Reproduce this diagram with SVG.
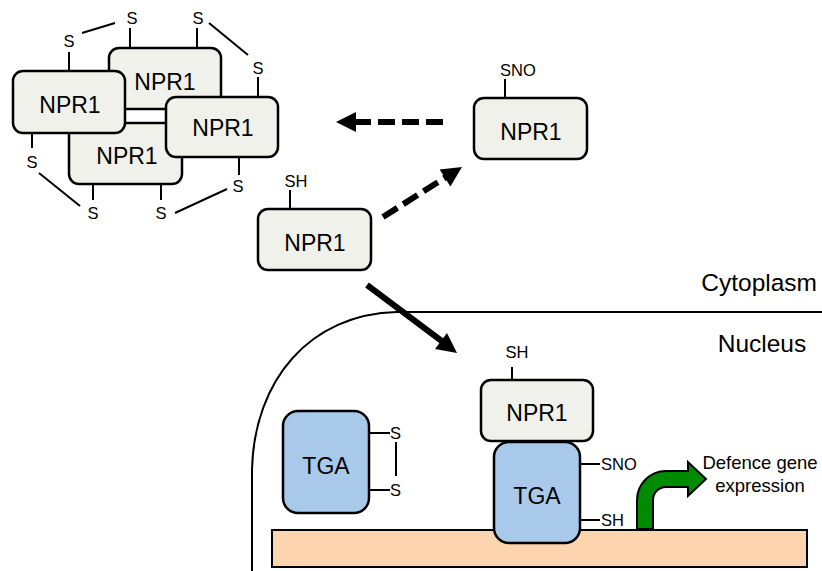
<svg xmlns="http://www.w3.org/2000/svg" width="822" height="571" viewBox="0 0 822 571">
<style>
text{font-family:"Liberation Sans",Arial,sans-serif;fill:#000}
.npr{fill:#F1F1EB;stroke:#000;stroke-width:2.5}
.tga{fill:#A9C9EB;stroke:#000;stroke-width:2.5}
.big{font-size:23px;text-anchor:middle}
.lab{font-size:16.5px}
.mid{text-anchor:middle}
.thin{stroke:#000;stroke-width:2;fill:none}
.arr{stroke:#000;stroke-width:6;fill:none}
.dash{stroke-dasharray:17 7}
.lbl{font-size:24.5px}
.txt{font-size:18.5px;text-anchor:middle}
</style>
<rect width="822" height="571" fill="#fff"/>
<g id="nucleus-envelope">
<path class="thin" d="M822,312 H397 C310,314 254,380 252,470 V571"/>
</g>
<g id="labels">
<text class="lbl" x="817" y="291" text-anchor="end">Cytoplasm</text>
<text class="lbl" x="762" y="352" text-anchor="middle">Nucleus</text>
</g>
<g id="dna">
<rect x="272" y="530" width="535" height="37" fill="#FCD5AE" stroke="#000" stroke-width="2"/>
</g>
<g id="npr1-oligomer">
<rect class="npr" x="109" y="48" width="112" height="61" rx="10"/>
<text class="big" x="165" y="90">NPR1</text>
<rect class="npr" x="69" y="123" width="113" height="61" rx="10"/>
<text class="big" x="127" y="164">NPR1</text>
<rect class="npr" x="13" y="71" width="112" height="62" rx="10"/>
<text class="big" x="70" y="113">NPR1</text>
<rect class="npr" x="166" y="97" width="112" height="60" rx="10"/>
<text class="big" x="223" y="136">NPR1</text>
<path class="thin" d="M69,71V52 M130,48V28 M197,48V28 M258,97V77 M32,133V148 M93,184V200 M161,184V200 M239,157V175 M82,33L115,23 M209,23L248,55 M39,173L80,206 M175,213L227,189"/>
<text class="lab mid" x="69" y="47">S</text>
<text class="lab mid" x="132" y="24">S</text>
<text class="lab mid" x="198" y="24">S</text>
<text class="lab mid" x="258" y="74">S</text>
<text class="lab mid" x="32" y="168">S</text>
<text class="lab mid" x="93" y="219">S</text>
<text class="lab mid" x="161" y="219">S</text>
<text class="lab mid" x="238" y="192">S</text>
</g>
<g id="npr1-sh">
<rect class="npr" x="258" y="209" width="113" height="61" rx="10"/>
<text class="big" x="315" y="251">NPR1</text>
<path class="thin" d="M290,209V190"/>
<text class="lab mid" x="296" y="187">SH</text>
</g>
<g id="npr1-sno">
<rect class="npr" x="474" y="98" width="113" height="61" rx="10"/>
<text class="big" x="531" y="140">NPR1</text>
<path class="thin" d="M505,98V79"/>
<text class="lab mid" x="518" y="76">SNO</text>
</g>
<g id="tga-oxidized">
<rect class="tga" x="283" y="411" width="86" height="102" rx="15"/>
<text class="big" x="326" y="474">TGA</text>
<path class="thin" d="M369,433H390 M369,490H390 M396,442V476"/>
<text class="lab" x="390" y="439">S</text>
<text class="lab" x="390" y="496">S</text>
</g>
<g id="npr1-tga-complex">
<rect class="npr" x="481" y="380" width="112" height="61" rx="10"/>
<text class="big" x="537" y="421">NPR1</text>
<path class="thin" d="M512,380V367"/>
<text class="lab mid" x="517" y="358">SH</text>
<rect class="tga" x="494" y="442" width="86" height="101" rx="15"/>
<text class="big" x="537" y="504">TGA</text>
<path class="thin" d="M580,464H600 M580,520H600"/>
<text class="lab" x="601" y="470">SNO</text>
<text class="lab" x="601" y="526">SH</text>
</g>
<g id="gene-expression">
<path d="M637,529 V500 A29,29 0 0 1 666,471 H688 V462 L706,479 L688,496 V487 H666 A13,13 0 0 0 653,500 V529 Z" fill="#008A00" stroke="#000" stroke-width="2" stroke-linejoin="miter"/>
<text class="txt" x="760" y="469">Defence gene</text>
<text class="txt" x="760" y="492">expression</text>
</g>
<g id="connectors">
<line class="arr dash" x1="443" y1="122" x2="354" y2="122"/>
<polygon points="336,122 356,112 356,132"/>
<line class="arr dash" x1="383" y1="217" x2="446" y2="177"/>
<polygon points="462,167 450.4,186.5 439.7,169.5"/>
<line class="arr" x1="367" y1="285" x2="443" y2="342"/>
<polygon points="457,353 435,349 447,333"/>
</g>
</svg>
